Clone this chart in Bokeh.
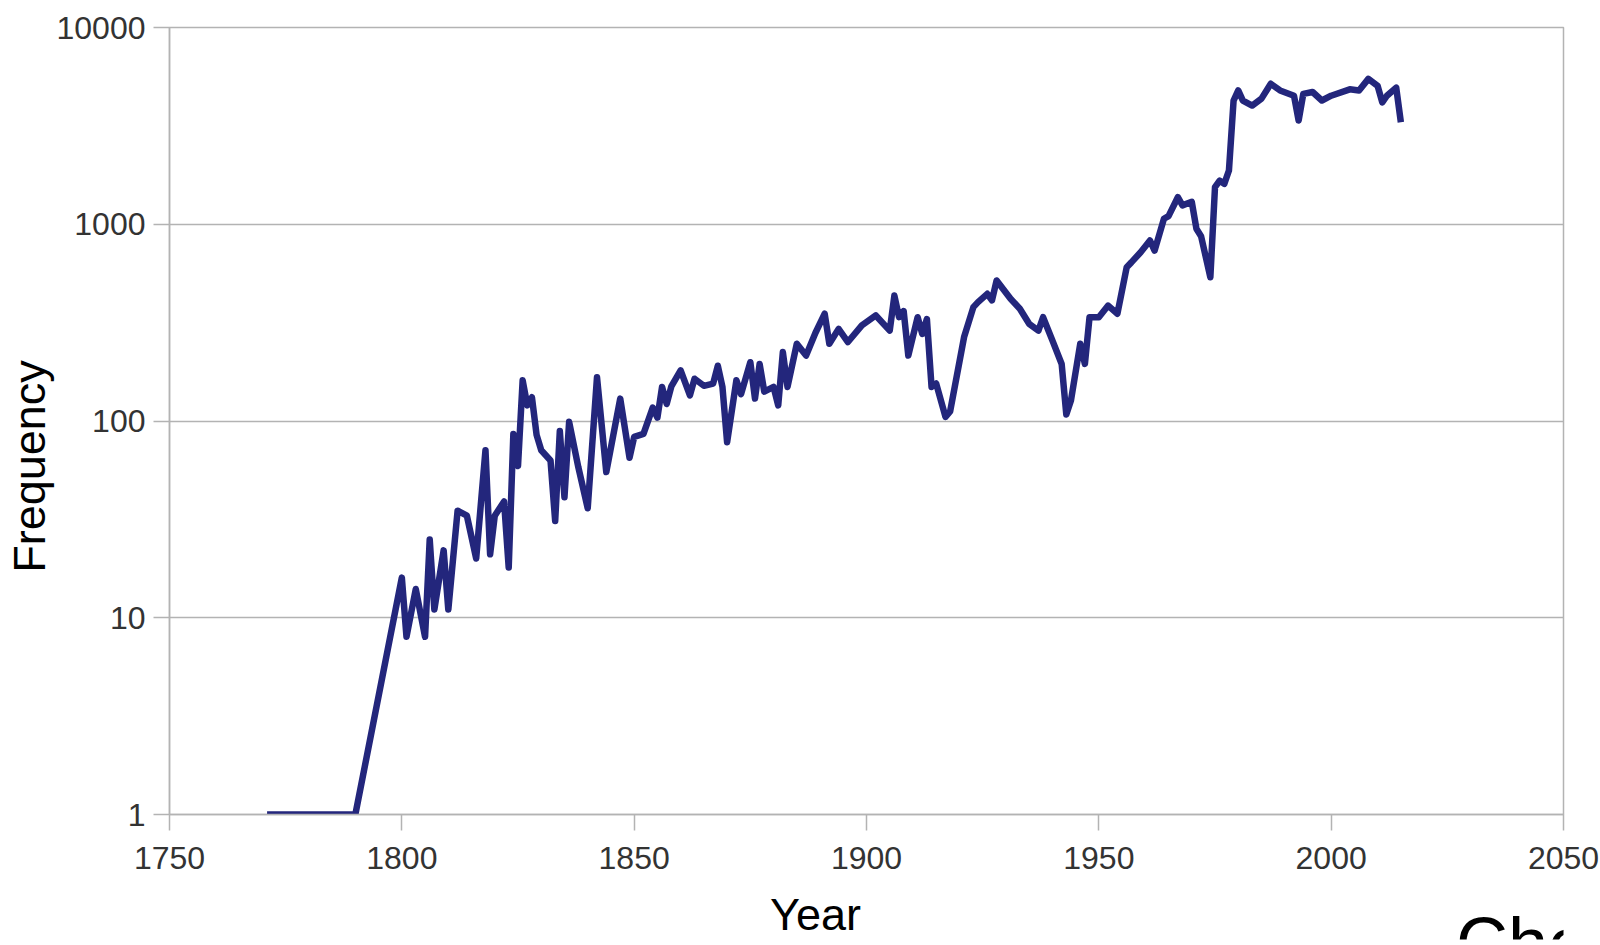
import math
from bokeh.plotting import figure
from bokeh.models import FixedTicker, Label, GridBox
from bokeh.core.properties import value
from bokeh.embed import file_html
from bokeh.resources import INLINE

# yearly frequency series
years = [1771, 1780, 1790,
         1800, 1801, 1803, 1805, 1806, 1807, 1809, 1810, 1812, 1814, 1816, 1818, 1819,
         1820, 1822, 1823, 1824, 1825, 1826, 1827, 1828, 1829, 1830, 1832, 1833, 1834,
         1835, 1836, 1838, 1840, 1842, 1844, 1847, 1849, 1850, 1852, 1854, 1855, 1856,
         1857, 1858, 1860, 1862, 1863, 1865, 1867, 1868, 1869, 1870, 1872, 1873, 1875,
         1876, 1877, 1878, 1880, 1881, 1882, 1883, 1885, 1887, 1889, 1891, 1892, 1894,
         1896, 1899, 1902, 1905, 1906, 1907, 1908, 1909, 1911, 1912, 1913, 1914, 1915,
         1917, 1918, 1921, 1923, 1924, 1926, 1927, 1928, 1931, 1933, 1935, 1937, 1938,
         1940, 1942, 1943, 1944, 1946, 1947, 1948, 1950, 1952, 1954, 1956, 1957, 1959,
         1961, 1962, 1964, 1965, 1967, 1968, 1970, 1971, 1972, 1974, 1975, 1976, 1977,
         1978, 1979, 1980, 1981, 1983, 1985, 1987, 1989, 1992, 1993, 1994, 1996, 1998,
         2000, 2004, 2006, 2008, 2010, 2011, 2012, 2014, 2015]
frequency = [1, 1, 1,
             16, 8, 14, 8, 25, 11, 22, 11, 35, 33, 20, 71, 21,
             33, 39, 18, 86, 59, 161, 120, 132, 85, 71, 63, 31, 89,
             41, 99, 58, 36, 167, 55, 130, 65, 83, 86, 117, 104, 149,
             122, 150, 181, 135, 164, 151, 155, 191, 149, 78, 161, 137, 199,
             130, 195, 141, 149, 120, 224, 149, 247, 215, 280, 351, 247, 294,
             252, 306, 344, 288, 434, 337, 362, 215, 337, 277, 330, 149, 155,
             105, 112, 267, 379, 402, 443, 410, 518, 418, 372, 312, 288, 337,
             257, 195, 108, 127, 247, 195, 337, 337, 386, 351, 605, 640, 721,
             827, 735, 1066, 1100, 1372, 1247, 1300, 948, 870, 538, 1543, 1667, 1604,
             1876, 4255, 4786, 4255, 4013, 4350, 5175, 4786, 4500, 3366, 4600, 4700, 4255,
             4500, 4850, 4786, 5480, 5050, 4160, 4500, 4950, 3300]

x_ticks = [1750, 1800, 1850, 1900, 1950, 2000, 2050]
y_ticks = [1, 10, 100, 1000, 10000]
y_tick_labels = ["1", "10", "100", "1000", "10000"]

FONT = "Liberation Sans"
GRID = "#b3b3b3"
W, H = 1600, 945

p = figure(width=W, height=H, x_range=(1750, 2050), y_range=(1, 10000),
           y_axis_type="log", output_backend="svg", toolbar_location=None,
           min_border_left=169, min_border_right=37, min_border_top=27,
           min_border_bottom=131, background_fill_color="white",
           border_fill_color="white")

p.outline_line_color = GRID
p.outline_line_width = 1.5

p.xgrid.visible = False
p.ygrid.grid_line_color = GRID
p.ygrid.grid_line_width = 1.5

p.xaxis.ticker = FixedTicker(ticks=x_ticks)
p.yaxis.ticker = FixedTicker(ticks=y_ticks)
p.yaxis.major_label_overrides = {t: s for t, s in zip(y_ticks, y_tick_labels)}

for ax in (p.xaxis[0], p.yaxis[0]):
    ax.axis_line_color = GRID
    ax.axis_line_width = 1.5
    ax.major_tick_line_color = GRID
    ax.major_tick_line_width = 1.5
    ax.major_tick_in = 0
    ax.major_tick_out = 16
    ax.minor_tick_line_color = None
    ax.major_label_text_font = FONT
    ax.major_label_text_font_size = "32px"
    ax.major_label_text_color = "#333333"
p.xaxis.major_label_standoff = 16
p.yaxis.major_label_standoff = 8

p.line(years, frequency, line_color="#23267c", line_width=6.5, line_join="round")

# axis titles live in the side panels so they are drawn outside the frame;
# positions are pixel offsets from the frame's lower-left corner
x0, y0 = x_ticks[0], y_ticks[0]
p.add_layout(Label(x=x0, y=y0, x_offset=-140, y_offset=348, angle=math.pi / 2,
                   text="Frequency", text_font=FONT, text_font_size="45px",
                   text_color="black", text_align="center",
                   text_baseline="alphabetic"), "left")
p.add_layout(Label(x=x0, y=y0, x_offset=646, y_offset=-100, text="Year",
                   text_font=FONT, text_font_size="45px", text_color="black",
                   text_align="center", text_baseline="alphabetic"), "below")

# caption strip: a full-width transparent plot sharing the chart's grid cell,
# pinned to its bottom edge; its frame cuts the caption off at the bottom
CAP_H = 33
cap = figure(width=W, height=CAP_H, x_range=(0, W), y_range=(0, CAP_H),
             output_backend="svg", toolbar_location=None,
             x_axis_location=None, y_axis_location=None, min_border=0,
             align="end")
cap.grid.visible = False
cap.outline_line_color = None
cap.background_fill_alpha = 0
cap.border_fill_alpha = 0
cap.text(x=[1476.5], y=[-1], text=["Che"], text_font=value(FONT),
         text_font_size="72px", text_color="black", text_align="left",
         text_baseline="middle")

layout = GridBox(children=[(p, 0, 0), (cap, 0, 0)])

open("out.html", "w").write(file_html(layout, INLINE))
